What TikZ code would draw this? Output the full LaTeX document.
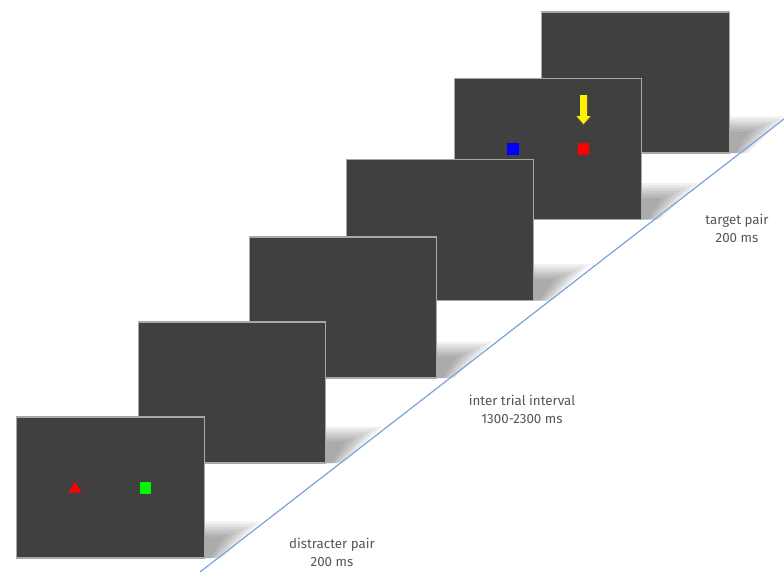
\documentclass[tikz,border=0pt]{standalone}
\usepackage{fontspec}
\setmainfont{Fira Sans}
\usetikzlibrary{calc,positioning}

\definecolor{screengray}{HTML}{404040}
\definecolor{edgegray}{HTML}{A8A8A8}
\definecolor{timeline}{HTML}{7BA3D6}
\definecolor{labelgray}{HTML}{555555}

\tikzset{
  screen/.style={fill=screengray,draw=edgegray,line width=0.8pt,
    minimum width=140.6pt,minimum height=105.75pt,inner sep=0pt},
  fixdot/.style={circle,fill=black!80,inner sep=0pt,minimum size=1.2pt},
  stimsq/.style={minimum size=8.6pt,inner sep=0pt},
  phase/.style={align=center,text=labelgray,font=\fontsize{10}{13.5}\selectfont},
}

\begin{document}
\begin{tikzpicture}[x=0.75pt,y=-0.75pt]
    \useasboundingbox (0,0) rectangle (784,572);
    % screens, back to front, each with its soft shadow
    \foreach \n/\x/\y in {6/635.5/82.5,5/548/149,4/440/230,3/343/307.5,2/232/392.5,1/110.5/487.5}{
        \coordinate (c\n) at (\x,\y);
        \foreach \k in {0,...,6}{
            \fill[black,opacity=0.055]
                ($(c\n)+(90,34+2.5*\k)$) -- ($(c\n)+(150-6*\k,34+2.5*\k)$)
                -- ($(c\n)+(112-2*\k,70.5)$) -- ($(c\n)+(90,70.5)$) -- cycle;
        }
        \node[screen] (s\n) at (c\n) {};
        \node[fixdot] (f\n) at (s\n.center) {};
    }
    % distracter pair
    \fill[red] ($(s1.center)+(-35.5,-6)$) -- ($(s1.center)+(-29,5)$)
        -- ($(s1.center)+(-42,5)$) -- cycle;
    \node[stimsq,fill=green!90!black!40!green] (dist) at ($(s1.center)+(35,0.5)$) {};
    % target pair
    \node[stimsq,fill=blue] (tleft) at ($(s5.center)+(-35,0)$) {};
    \node[stimsq,fill=red] (tright) at ($(s5.center)+(35.5,0)$) {};
    \coordinate (tip) at ($(tright.north)+(0,-19)$);
    \fill[black!60!yellow,opacity=0.5] ($(tip)+(-3.5,-28)$) -- ($(tip)+(3.5,-28)$)
        -- ($(tip)+(3.5,-7)$) -- ($(tip)+(7.5,-7)$) -- ($(tip)+(0,1.5)$)
        -- ($(tip)+(-7.5,-7)$) -- ($(tip)+(-3.5,-7)$) -- cycle;
    \fill[yellow] ($(tip)+(-3.5,-29)$) -- ($(tip)+(3.5,-29)$)
        -- ($(tip)+(3.5,-8)$) -- ($(tip)+(7,-8)$) -- (tip)
        -- ($(tip)+(-7,-8)$) -- ($(tip)+(-3.5,-8)$) -- cycle;
    % time line
    \coordinate (t0) at (200,572);
    \coordinate (t1) at (784,119);
    \draw[timeline,line width=0.9pt] (t0) -- (t1);
    \node[phase] (lbl1) at (332,552) {distracter pair\\200 ms};
    \node[phase] (lbl2) at (522,409) {inter trial interval\\1300-2300 ms};
    \node[phase] (lbl3) at (737,228) {target pair\\200 ms};
\end{tikzpicture}
\end{document}
